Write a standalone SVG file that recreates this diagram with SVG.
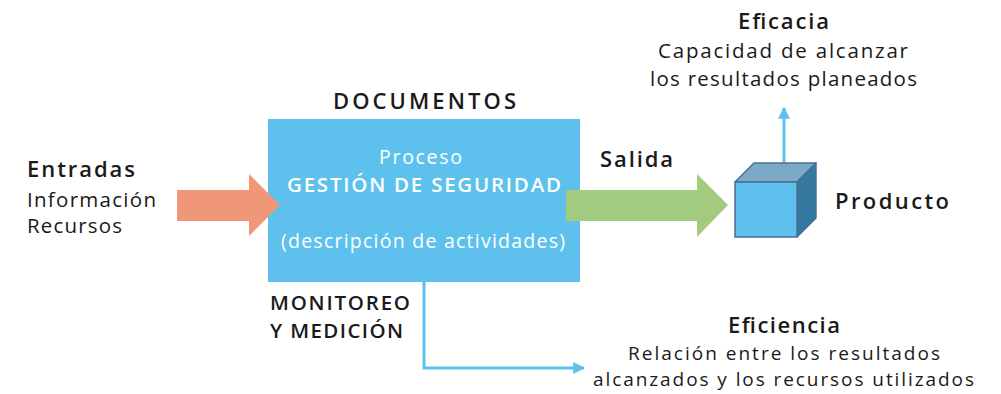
<svg xmlns="http://www.w3.org/2000/svg" width="1001" height="394" viewBox="0 0 1001 394">
<defs>
<style>
text{font-family:"Open Sans","Noto Sans",sans-serif;fill:#1a1a1a;font-size:20.5px}
.b{font-weight:600}
.h{font-size:22px}
.s{font-size:19px}
.w{fill:#ffffff}
.c{text-anchor:middle}
.ln{fill:none;stroke:#5EC1ED;stroke-width:3}
</style>
<marker id="ah" viewBox="0 0 10 10" refX="9" refY="5" markerWidth="4" markerHeight="4" markerUnits="strokeWidth" orient="auto">
<path d="M0,0L10,5L0,10z" fill="#5EC1ED"/>
</marker>
</defs>
<rect width="1001" height="394" fill="#ffffff"/>
<g id="entradas">
<text x="27" y="177" class="b h" textLength="108">Entradas</text>
<text x="27" y="207" textLength="129">Información</text>
<text x="27" y="233" textLength="95">Recursos</text>
</g>
<g id="proceso">
<text x="424.5" y="109" class="b c h" textLength="183">DOCUMENTOS</text>
<rect x="268" y="119" width="312" height="163" fill="#5EC1ED"/>
<text x="420.5" y="164" class="w c" style="font-size:19.5px" textLength="83">Proceso</text>
<text x="424" y="192" class="w b c" style="font-size:20.5px" textLength="274">GESTIÓN DE SEGURIDAD</text>
<text x="423" y="248" class="w c" style="font-size:19.5px" textLength="284">(descripción de actividades)</text>
</g>
<g id="connectors">
<path id="entrada-arrow" d="M177,190H249V174L280,205L249,236V221H177Z" fill="#F0977A"/>
<path id="salida-arrow" d="M566,190H697V174L728,205L697,237V221H566Z" fill="#A3CB80"/>
<path class="ln" d="M784,163V108" marker-end="url(#ah)"/>
<path class="ln" d="M424,282V368H584" marker-end="url(#ah)"/>
</g>
<g id="salida">
<text x="600" y="167" class="b h" textLength="73">Salida</text>
</g>
<g id="producto">
<path d="M735,182L754,163H816L797,182Z" fill="#7BAAC8" stroke="#4A6F94" stroke-width="1.5" stroke-linejoin="round"/>
<path d="M797,182L816,163V218L797,237Z" fill="#3579A0" stroke="#4A6F94" stroke-width="1.5" stroke-linejoin="round"/>
<rect x="735" y="182" width="62" height="55" fill="#5EC1ED" stroke="#4A6F94" stroke-width="1.5"/>
<text x="835" y="209" class="b h" textLength="114">Producto</text>
</g>
<g id="eficacia">
<text x="783.5" y="29" class="b c h" textLength="91">Eficacia</text>
<text x="783" y="58" class="c" textLength="250">Capacidad de alcanzar</text>
<text x="783.5" y="86" class="c" textLength="267">los resultados planeados</text>
</g>
<g id="monitoreo">
<text x="270" y="310" class="b" textLength="140">MONITOREO</text>
<text x="270" y="338" class="b" textLength="133">Y MEDICIÓN</text>
</g>
<g id="eficiencia">
<text x="784" y="333" class="b c h" textLength="112">Eficiencia</text>
<text x="784" y="360" class="c s" textLength="312">Relación entre los resultados</text>
<text x="783.5" y="386" class="c s" textLength="381">alcanzados y los recursos utilizados</text>
</g>
</svg>
